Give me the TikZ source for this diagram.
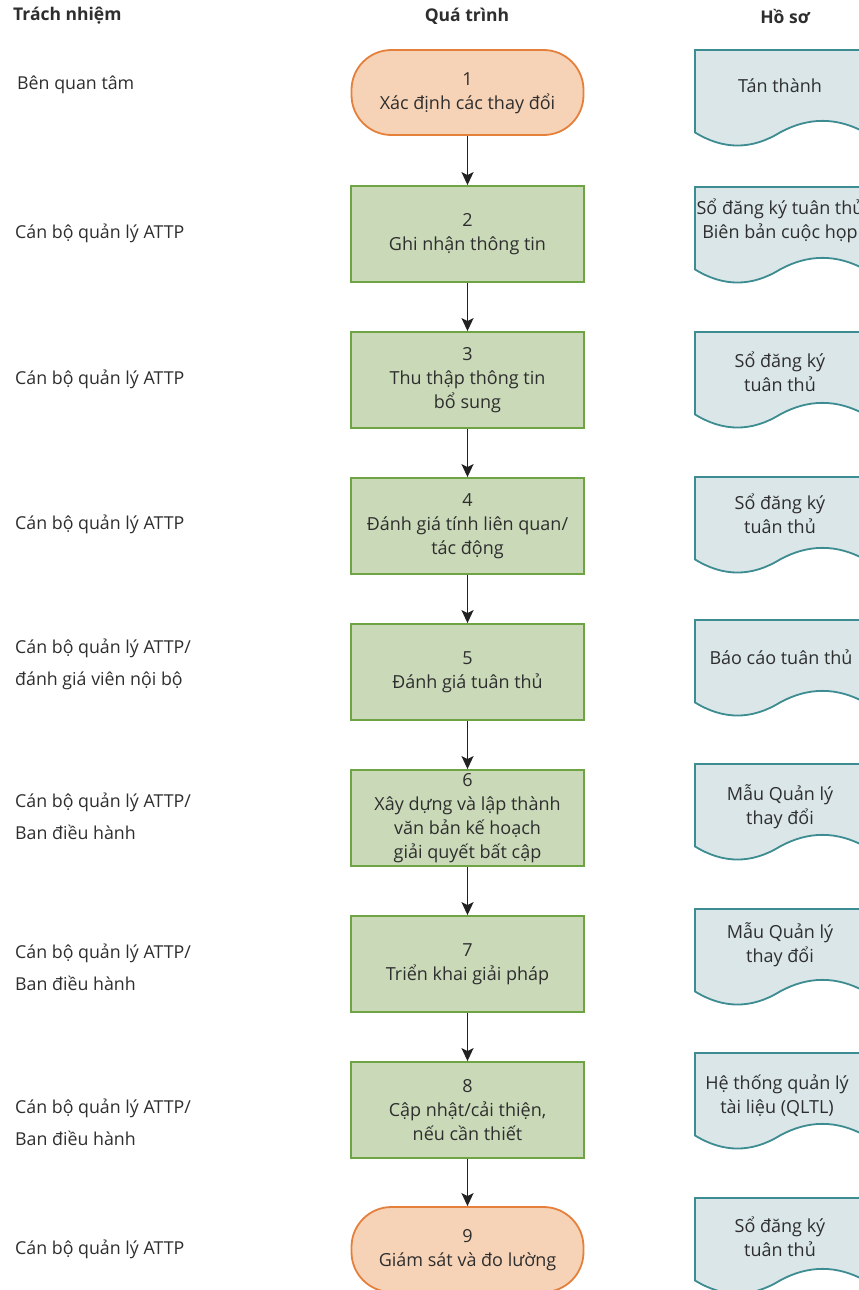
\documentclass[tikz,border=0pt]{standalone}
\usepackage{fontspec}
\setmainfont{Open Sans}
\usetikzlibrary{arrows.meta}
\definecolor{txt}{HTML}{2E2E2E}
\definecolor{termfill}{HTML}{F6D3B7}
\definecolor{termdraw}{HTML}{E5803C}
\definecolor{procfill}{HTML}{CAD9B8}
\definecolor{procdraw}{HTML}{6EA443}
\definecolor{docfill}{HTML}{DAE6E8}
\definecolor{docdraw}{HTML}{3C8C91}
\definecolor{arr}{HTML}{222222}
\tikzset{
  base/.style={font=\fontsize{18}{24}\selectfont, text=txt, align=center},
  terminal/.style={base, draw=termdraw, fill=termfill, line width=1.8pt,
    rounded corners=40pt, minimum width=232pt, minimum height=85pt, inner sep=0pt},
  process/.style={base, draw=procdraw, fill=procfill, line width=1.8pt,
    minimum width=233pt, minimum height=96pt, inner sep=0pt},
  lefttext/.style={font=\fontsize{17.8}{32}\selectfont, text=txt, align=left, anchor=west, inner sep=0pt},
  header/.style={font=\fontsize{17.5}{20}\selectfont\bfseries, text=txt, inner sep=0pt},
  doctext/.style={base, inner sep=0pt},
  docshape/.style={draw=docdraw, fill=docfill, line width=1.8pt},
  flow/.style={draw=arr, line width=1.8pt, -{Stealth[length=13pt, width=12pt, inset=3pt]}},
}
% document shape: #1 = top (px), left x=695, width 170, height 97
\newcommand{\docpath}[1]{%
  \path[docshape] (695,#1) -- (865,#1) -- (865,#1+82.45)
    .. controls (836.67,#1+67) and (808.33,#1+67) .. (780,#1+82.45)
    .. controls (751.67,#1+99.9) and (723.33,#1+99.9) .. (695,#1+82.45) -- cycle;}
\begin{document}
\begin{tikzpicture}[x=1pt, y=-1pt]
\useasboundingbox (0,0) rectangle (859,1290);
\clip (0,0) rectangle (859,1290);
\fill[white] (0,0) rectangle (859,1290);

% headers
\node[header, anchor=west] (h1) at (13,16) {Trách nhiệm};
\node[header] (h2) at (467,16) {Quá trình};
\node[header] (h3) at (785,16) {Hồ sơ};

% left column
\node[lefttext] (r1) at (17,85) {Bên quan tâm};
\node[lefttext] (r2) at (15,233) {Cán bộ quản lý ATTP};
\node[lefttext] (r3) at (15,379) {Cán bộ quản lý ATTP};
\node[lefttext] (r4) at (15,524) {Cán bộ quản lý ATTP};
\node[lefttext] (r5) at (15,664) {Cán bộ quản lý ATTP/\\đánh giá viên nội bộ};
\node[lefttext] (r6) at (15,816) {Cán bộ quản lý ATTP/\\Ban điều hành};
\node[lefttext] (r7) at (15,967) {Cán bộ quản lý ATTP/\\Ban điều hành};
\node[lefttext] (r8) at (15,1122) {Cán bộ quản lý ATTP/\\Ban điều hành};
\node[lefttext] (r9) at (15,1249) {Cán bộ quản lý ATTP};

% process column
\node[terminal] (p1) at (467.5,92.5) {\raisebox{7pt}{\begin{tabular}{@{}c@{}}1\\Xác định các thay đổi\end{tabular}}};
\node[process] (p2) at (467.5,234) {2\\Ghi nhận thông tin};
\node[process] (p3) at (467.5,380) {3\\Thu thập thông tin\\bổ sung};
\node[process] (p4) at (467.5,526) {4\\Đánh giá tính liên quan/\\tác động};
\node[process] (p5) at (467.5,672) {5\\Đánh giá tuân thủ};
\node[process] (p6) at (467.5,818) {6\\Xây dựng và lập thành\\văn bản kế hoạch\\giải quyết bất cập};
\node[process] (p7) at (467.5,964) {7\\Triển khai giải pháp};
\node[process] (p8) at (467.5,1110) {8\\Cập nhật/cải thiện,\\nếu cần thiết};
\node[terminal] (p9) at (467.5,1249.5) {\raisebox{3pt}{\begin{tabular}{@{}c@{}}9\\Giám sát và đo lường\end{tabular}}};

\foreach \a/\b in {p1/p2,p2/p3,p3/p4,p4/p5,p5/p6,p6/p7,p7/p8,p8/p9}
  \draw[flow] (\a.south) -- (\b.north);

% documents
\docpath{50}
\docpath{187}
\docpath{332}
\docpath{477}
\docpath{620}
\docpath{764}
\docpath{909}
\docpath{1053}
\docpath{1198}
\node[doctext] (d1) at (780,86) {Tán thành};
\node[doctext] (d2) at (780,221) {Sổ đăng ký tuân thủ\\Biên bản cuộc họp};
\node[doctext] (d3) at (780,371.5) {Sổ đăng ký\\tuân thủ};
\node[doctext] (d4) at (780,514) {Sổ đăng ký\\tuân thủ};
\node[doctext] (d5) at (781,657) {Báo cáo tuân thủ};
\node[doctext] (d6) at (780,807) {Mẫu Quản lý\\thay đổi};
\node[doctext] (d7) at (780,945) {Mẫu Quản lý\\thay đổi};
\node[doctext] (d8) at (777,1096) {Hệ thống quản lý\\tài liệu (QLTL)};
\node[doctext] (d9) at (780,1237) {Sổ đăng ký\\tuân thủ};
\end{tikzpicture}
\end{document}
